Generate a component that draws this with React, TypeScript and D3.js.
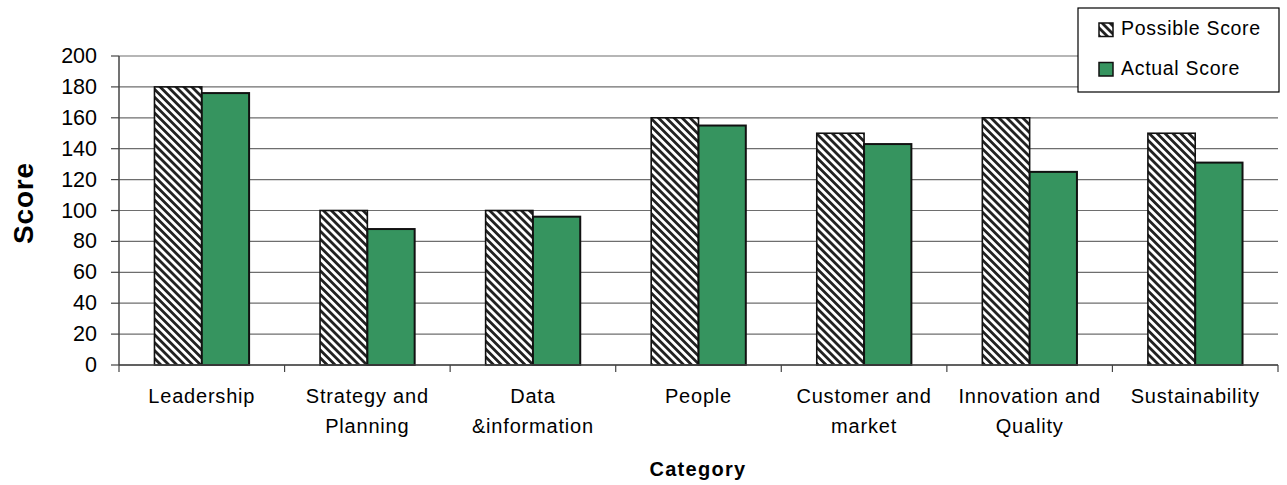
import React from "react";
import * as d3 from "d3";

const categories = [
  ["Leadership"],
  ["Strategy and", "Planning"],
  ["Data", "&information"],
  ["People"],
  ["Customer and", "market"],
  ["Innovation and", "Quality"],
  ["Sustainability"],
];
const possibleScore = [180, 100, 100, 160, 150, 160, 150];
const actualScore = [176, 88, 96, 155, 143, 125, 131];
const yTicks = [0, 20, 40, 60, 80, 100, 120, 140, 160, 180, 200];
const seriesNames = ["Possible Score", "Actual Score"];

const W = 1287;
const H = 485;
const left = 119;
const right = 1278;
const top = 56;
const bottom = 365;
const GREEN = "#36945f";
const FONT = "'Liberation Sans', Arial, sans-serif";

export default function App() {
  const keys = categories.map((_, i) => String(i));
  const x = d3.scaleBand<string>().domain(keys).range([left, right]).paddingInner(0).paddingOuter(0);
  const y = d3.scaleLinear().domain([0, 200]).range([bottom, top]);
  const bw = x.bandwidth() / 3.5;

  return (
    <svg width={W} height={H} style={{ display: "block", position: "absolute", left: 0, top: 0 }} fontFamily={FONT}>
      <defs>
        <pattern id="hatch" patternUnits="userSpaceOnUse" width="5.6" height="5.6" patternTransform="rotate(-45)">
          <rect width="5.6" height="5.6" fill="#fff" />
          <rect x="0" y="0" width="2.8" height="5.6" fill="#222" />
        </pattern>
      </defs>
      <rect width={W} height={H} fill="#fff" />
      {/* gridlines */}
      {yTicks.map((t) => (
        <line key={"g" + t} x1={left} x2={right} y1={y(t)} y2={y(t)} stroke="#6e6e6e" strokeWidth={1.2} />
      ))}
      {/* bars */}
      {keys.map((k, i) => {
        const x0 = (x(k) as number) + (x.bandwidth() - 2 * bw) / 2;
        return (
          <g key={"b" + k}>
            <rect x={x0} y={y(possibleScore[i])} width={bw} height={y(0) - y(possibleScore[i])} fill="url(#hatch)" stroke="#111" strokeWidth={1.6} />
            <rect x={x0 + bw} y={y(actualScore[i])} width={bw} height={y(0) - y(actualScore[i])} fill={GREEN} stroke="#111" strokeWidth={2} />
          </g>
        );
      })}
      {/* y axis */}
      <line x1={left} x2={left} y1={top} y2={bottom} stroke="#444" strokeWidth={1.5} />
      {yTicks.map((t) => (
        <g key={"yt" + t}>
          <line x1={left - 8} x2={left} y1={y(t)} y2={y(t)} stroke="#444" strokeWidth={1.2} />
          <text x={97} y={y(t)} dy="0.33em" textAnchor="end" fontSize={21.5} fill="#000">{t}</text>
        </g>
      ))}
      {/* x axis */}
      <line x1={left} x2={right} y1={bottom} y2={bottom} stroke="#444" strokeWidth={1.5} />
      {keys.concat(["end"]).map((k, i) => {
        const xx = k === "end" ? right : (x(k) as number);
        return <line key={"xt" + i} x1={xx} x2={xx} y1={bottom} y2={bottom + 7} stroke="#444" strokeWidth={1.2} />;
      })}
      {keys.map((k, i) => (
        <text key={"xl" + k} x={(x(k) as number) + x.bandwidth() / 2} y={403} textAnchor="middle" fontSize={20} letterSpacing={0.8} fill="#000">
          {categories[i].map((line, j) => (
            <tspan key={j} x={(x(k) as number) + x.bandwidth() / 2} dy={j === 0 ? 0 : 29.5}>{line}</tspan>
          ))}
        </text>
      ))}
      {/* axis titles */}
      <text transform="translate(33,203) rotate(-90)" textAnchor="middle" fontSize={28} fontWeight="bold" letterSpacing={0.8} fill="#000">Score</text>
      <text x={698} y={476} textAnchor="middle" fontSize={20} fontWeight="bold" letterSpacing={1.3} fill="#000">Category</text>
      {/* legend */}
      <rect x={1078} y={8} width={201} height={84} fill="#fff" stroke="#000" strokeWidth={1.2} />
      {seriesNames.map((s, i) => (
        <g key={"lg" + i}>
          <rect x={1099} y={23 + i * 39.5} width={14} height={13.5} fill={i === 0 ? "url(#hatch)" : GREEN} stroke="#111" strokeWidth={1.5} />
          <text x={1121} y={35 + i * 40} fontSize={19.5} letterSpacing={0.7} fill="#000">{s}</text>
        </g>
      ))}
    </svg>
  );
}
